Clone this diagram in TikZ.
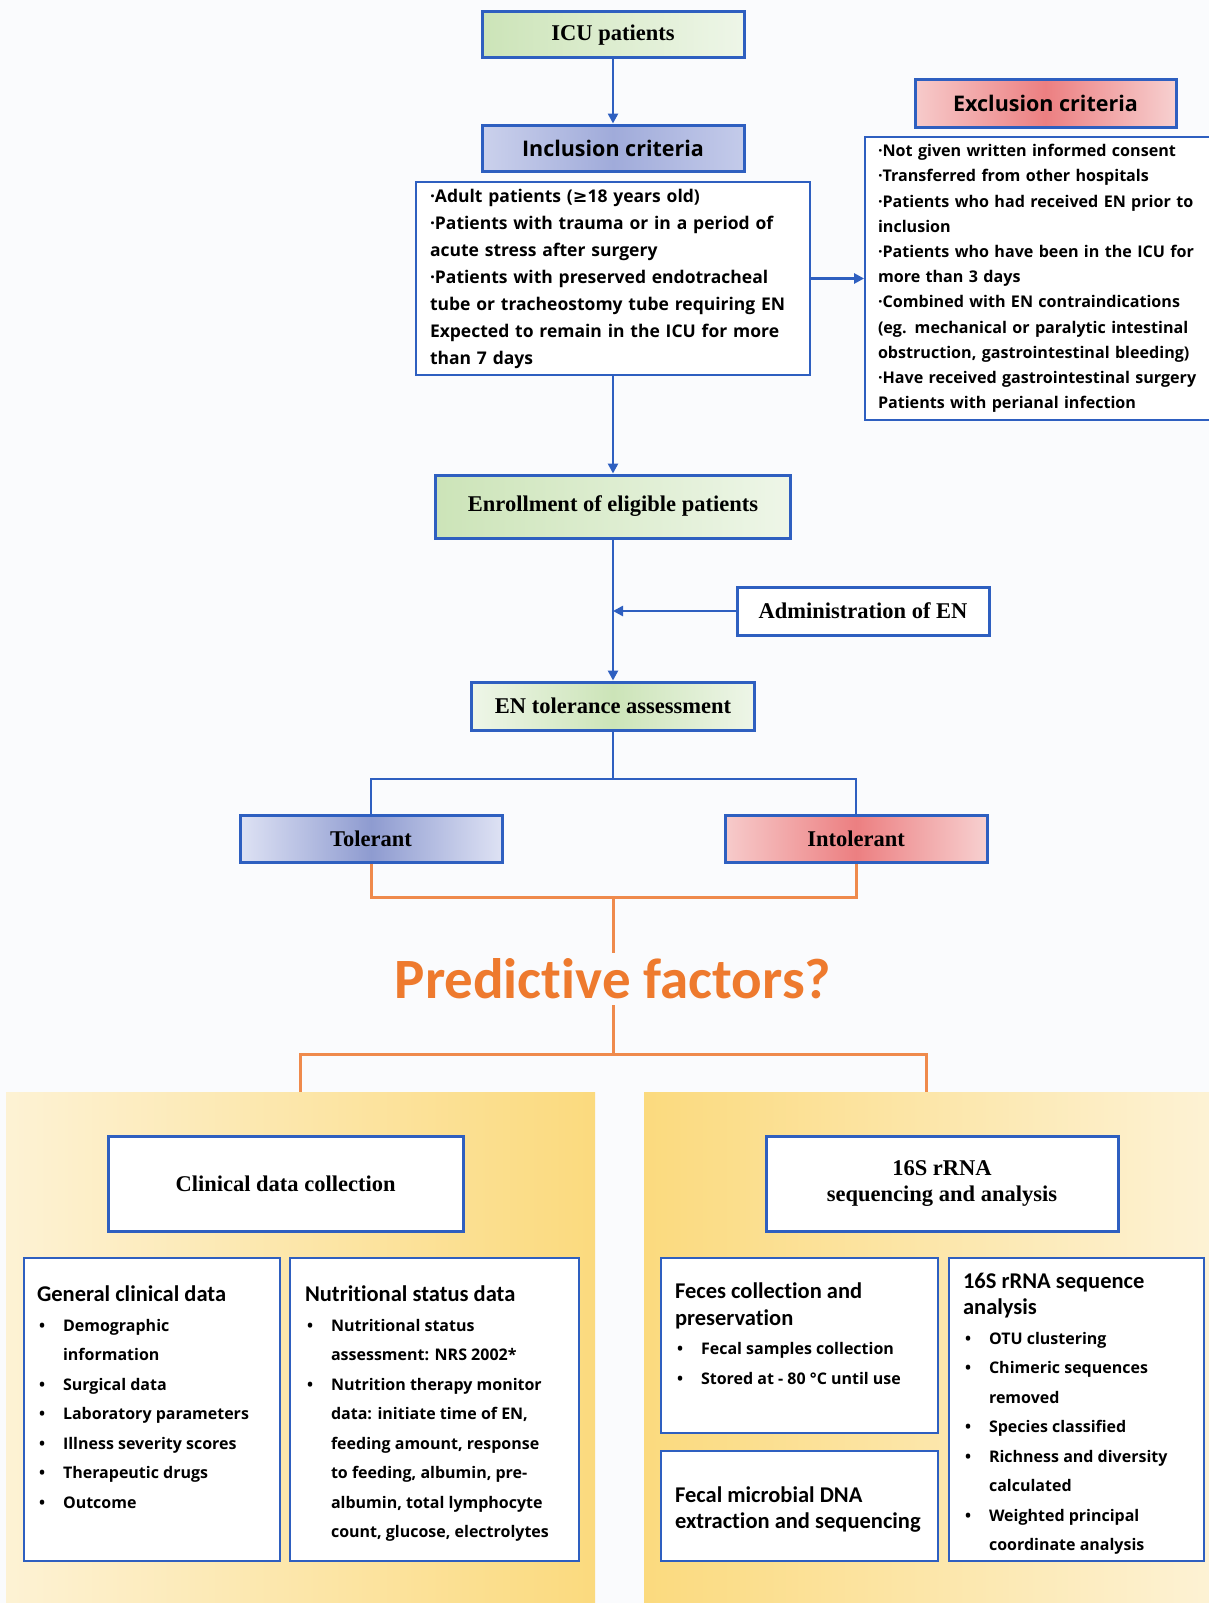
\documentclass[tikz,border=0pt]{standalone}
\usepackage{fontspec}
\setmainfont{Liberation Serif}
\newfontfamily\gothic{Open Sans}
\newfontfamily\calib[Ligatures=NoCommon]{Carlito}
\newfontfamily\djv{DejaVu Sans}
\usepackage{xcolor}
\usetikzlibrary{arrows.meta,positioning}

\definecolor{bluebd}{HTML}{2E5FC0}
\definecolor{grnL}{HTML}{CCE4B8}
\definecolor{grnR}{HTML}{EEF6E8}
\definecolor{bluL}{HTML}{CBD1EC}
\definecolor{bluM}{HTML}{A0ABDA}
\definecolor{bluR}{HTML}{C4CBEA}
\definecolor{tolL}{HTML}{DEE2F4}
\definecolor{tolM}{HTML}{8E9BD0}
\definecolor{redL}{HTML}{F7CBCB}
\definecolor{redM}{HTML}{EC7F81}
\definecolor{redR}{HTML}{F7D0D0}
\definecolor{orln}{HTML}{EF8A4C}
\definecolor{orpred}{HTML}{EE7A2E}
\definecolor{ydeep}{HTML}{FBDA7E}
\definecolor{ylite}{HTML}{FDF2D4}
\definecolor{bgwhite}{HTML}{FAFBFD}

\newcommand{\timesb}{\bfseries\fontsize{22.5}{26}\selectfont}
\newcommand{\gothhead}{\gothic\bfseries\fontsize{21.5}{24}\selectfont}
\newcommand{\hd}{\calib\bfseries\fontsize{22.5}{26}\selectfont}
\newcommand{\bul}{\makebox[26pt][l]{\hspace{2pt}•}}
\newcommand{\ind}{\hspace*{26pt}}

\begin{document}
\begin{tikzpicture}[x=1pt, y=-1pt,
        titlebox/.style={rectangle, draw=bluebd, line width=3pt, align=center, font=\timesb},
        listbox/.style={rectangle, draw=bluebd, line width=1.8pt, fill=white, align=left},
        subbox/.style={rectangle, draw=bluebd, line width=2.3pt, fill=white},
        subtext/.style={anchor=north west, inner sep=0pt, align=left, font=\gothic\bfseries\fontsize{16}{29.5}\selectfont},
        panel/.style={rectangle, inner sep=0pt},
        link/.style={draw=bluebd, line width=2.5pt, -{Triangle[length=10pt,width=10pt]}},
        plain/.style={draw=bluebd, line width=2.5pt},
        olink/.style={draw=orln, line width=3pt}
    ]
        \useasboundingbox (0,0) rectangle (1209,1603);
        \fill[bgwhite] (0,0) rectangle (1209,1603);

        % yellow panels
        \node[panel, minimum width=589pt, minimum height=511pt, left color=ylite, right color=ydeep] (clinpanel) at (300.5,1347.5) {};
        \node[panel, minimum width=565pt, minimum height=511pt, left color=ydeep, right color=ylite] (micpanel) at (926.5,1347.5) {};

        % screening
        \node[titlebox, minimum width=262pt, minimum height=46pt, left color=grnL, right color=grnR] (icu) at (613,35) {ICU patients};
        \node[titlebox, font=\gothhead, minimum width=262pt, minimum height=46pt, left color=bluL, right color=bluR, middle color=bluM] (incl) at (613,148) {Inclusion criteria};
        \node[listbox, minimum width=394pt, minimum height=193pt, text width=366pt, font=\gothic\bfseries\fontsize{17.5}{27}\selectfont] (incllist) at (613,278.5) {·Adult patients ({\djv\bfseries ≥}18 years old)\\
            ·Patients with trauma or in a period of\\
            acute stress after surgery\\
            ·Patients with preserved endotracheal\\
            tube or tracheostomy tube requiring EN\\
            Expected to remain in the ICU for more\\
            than 7 days};
        \node[titlebox, font=\gothhead, minimum width=261pt, minimum height=48pt, left color=redL, right color=redR, middle color=redM] (exhead) at (1045.5,103) {Exclusion criteria};
        \node[listbox, minimum width=348pt, minimum height=283pt, text width=322pt, font=\gothic\bfseries\fontsize{16.1}{25.2}\selectfont] (exlist) at (1039,278.5) {·Not given written informed consent\\
            ·Transferred from other hospitals\\
            ·Patients who had received EN prior to\\
            inclusion\\
            ·Patients who have been in the ICU for\\
            more than 3 days\\
            ·Combined with EN contraindications\\
            (eg. mechanical or paralytic intestinal\\
            obstruction, gastrointestinal bleeding)\\
            ·Have received gastrointestinal surgery\\
            Patients with perianal infection};

        % enrollment and assessment
        \node[titlebox, minimum width=355pt, minimum height=63pt, left color=grnL, right color=grnR] (enroll) at (613,506.5) {Enrollment of eligible patients};
        \node[titlebox, fill=white, minimum width=252pt, minimum height=48pt] (admin) at (863,611) {Administration of EN};
        \node[titlebox, minimum width=283pt, minimum height=48pt, left color=grnR, right color=grnR, middle color=grnL] (entol) at (613,706) {EN tolerance assessment};
        \node[titlebox, minimum width=262pt, minimum height=47pt, left color=tolL, right color=tolL, middle color=tolM] (tol) at (371,838.5) {Tolerant};
        \node[titlebox, minimum width=262pt, minimum height=47pt, left color=redL, right color=redR, middle color=redM] (intol) at (856,838.5) {Intolerant};
        \coordinate (split) at (613,779);
        \coordinate (ojoin) at (613,897);
        \coordinate (ljoin) at (613,1054);

        \node[font=\calib\bfseries\fontsize{57}{60}\selectfont, text=orpred, inner ysep=6pt] (pred) at (613,979) {Predictive factors?};

        \draw[link] (icu) -- (incl);
        \draw[link] (incllist.east) -- (exlist.west);
        \draw[link] (incllist) -- (enroll);
        \draw[link] (enroll) -- (entol);
        \draw[link] (admin) -- (admin -| enroll);
        \draw[plain] (entol) -- (split);
        \draw[plain] (tol.north) |- (split) -| (intol.north);
        \draw[olink] (tol.south) |- (ojoin) -| (intol.south);
        \draw[olink] (ojoin) -- (pred.north);
        \draw[olink] (pred.south) -- (ljoin);
        \draw[olink] (clinpanel.north) |- (ljoin) -| (micpanel.north);

        % data collection
        \node[titlebox, fill=white, minimum width=355pt, minimum height=95pt] (clin) at (285.5,1183.5) {Clinical data collection};
        \node[titlebox, fill=white, minimum width=352pt, minimum height=95pt] (seq16) at (942,1183.5) {16S rRNA\\sequencing and analysis};

        \node[subbox, minimum width=256pt, minimum height=303pt] (gen) at (152,1409.5) {};
        \node[subbox, minimum width=289pt, minimum height=303pt] (nut) at (434.5,1409.5) {};
        \node[subbox, minimum width=277pt, minimum height=175pt] (feces) at (799.5,1345.5) {};
        \node[subbox, minimum width=277pt, minimum height=110pt] (dna) at (799.5,1506) {};
        \node[subbox, minimum width=255pt, minimum height=303pt] (anal) at (1076.5,1409.5) {};

        \node[subtext, xshift=14pt, yshift=-29pt] (gentxt) at (gen.north west) {{\hd General clinical data}\\
            \bul Demographic\\
            \ind information\\
            \bul Surgical data\\
            \bul Laboratory parameters\\
            \bul Illness severity scores\\
            \bul Therapeutic drugs\\
            \bul Outcome};
        \node[subtext, xshift=16pt, yshift=-29pt] (nuttxt) at (nut.north west) {{\hd Nutritional status data}\\
            \bul Nutritional status\\
            \ind assessment: NRS 2002*\\
            \bul Nutrition therapy monitor\\
            \ind data: initiate time of EN,\\
            \ind feeding amount, response\\
            \ind to feeding, albumin, pre-\\
            \ind albumin, total lymphocyte\\
            \ind count, glucose, electrolytes};
        \node[subtext, xshift=15pt, yshift=-26pt] (fecestxt) at (feces.north west) {{\hd Feces collection and}\\[-3pt]
            {\hd preservation}\\
            \bul Fecal samples collection\\
            \bul Stored at - 80 °C until use};
        \node[subtext, anchor=west, xshift=15pt, yshift=-3pt, font=\hd] (dnatxt) at (dna.west) {Fecal microbial DNA\\
            extraction and sequencing};
        \node[subtext, xshift=15pt, yshift=-16pt] (analtxt) at (anal.north west) {{\hd 16S rRNA sequence}\\[-3pt]
            {\hd analysis}\\
            \bul OTU clustering\\
            \bul Chimeric sequences\\
            \ind removed\\
            \bul Species classified\\
            \bul Richness and diversity\\
            \ind calculated\\
            \bul Weighted principal\\
            \ind coordinate analysis};
    \end{tikzpicture}
\end{document}
